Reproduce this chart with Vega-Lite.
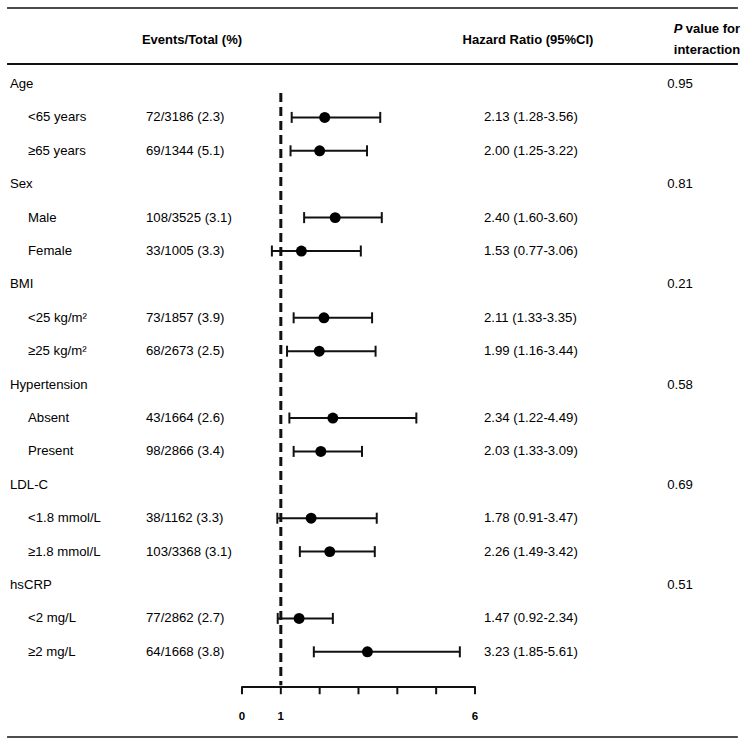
{
  "$schema": "https://vega.github.io/schema/vega-lite/v6.json",
  "width": 744,
  "height": 745,
  "autosize": {"type": "none"},
  "padding": 0,
  "background": "white",
  "config": {"view": {"stroke": null}},
  "datasets": {
    "rows": [
      {"row": 0, "label": "Age", "type": "group", "p": "0.95"},
      {"row": 1, "label": "<65 years", "type": "sub", "events": "72/3186 (2.3)", "hr": 2.13, "lo": 1.28, "hi": 3.56, "ci": "2.13 (1.28-3.56)"},
      {"row": 2, "label": "≥65 years", "type": "sub", "events": "69/1344 (5.1)", "hr": 2.0, "lo": 1.25, "hi": 3.22, "ci": "2.00 (1.25-3.22)"},
      {"row": 3, "label": "Sex", "type": "group", "p": "0.81"},
      {"row": 4, "label": "Male", "type": "sub", "events": "108/3525 (3.1)", "hr": 2.4, "lo": 1.6, "hi": 3.6, "ci": "2.40 (1.60-3.60)"},
      {"row": 5, "label": "Female", "type": "sub", "events": "33/1005 (3.3)", "hr": 1.53, "lo": 0.77, "hi": 3.06, "ci": "1.53 (0.77-3.06)"},
      {"row": 6, "label": "BMI", "type": "group", "p": "0.21"},
      {"row": 7, "label": "<25 kg/m²", "type": "sub", "events": "73/1857 (3.9)", "hr": 2.11, "lo": 1.33, "hi": 3.35, "ci": "2.11 (1.33-3.35)"},
      {"row": 8, "label": "≥25 kg/m²", "type": "sub", "events": "68/2673 (2.5)", "hr": 1.99, "lo": 1.16, "hi": 3.44, "ci": "1.99 (1.16-3.44)"},
      {"row": 9, "label": "Hypertension", "type": "group", "p": "0.58"},
      {"row": 10, "label": "Absent", "type": "sub", "events": "43/1664 (2.6)", "hr": 2.34, "lo": 1.22, "hi": 4.49, "ci": "2.34 (1.22-4.49)"},
      {"row": 11, "label": "Present", "type": "sub", "events": "98/2866 (3.4)", "hr": 2.03, "lo": 1.33, "hi": 3.09, "ci": "2.03 (1.33-3.09)"},
      {"row": 12, "label": "LDL-C", "type": "group", "p": "0.69"},
      {"row": 13, "label": "<1.8 mmol/L", "type": "sub", "events": "38/1162 (3.3)", "hr": 1.78, "lo": 0.91, "hi": 3.47, "ci": "1.78 (0.91-3.47)"},
      {"row": 14, "label": "≥1.8 mmol/L", "type": "sub", "events": "103/3368 (3.1)", "hr": 2.26, "lo": 1.49, "hi": 3.42, "ci": "2.26 (1.49-3.42)"},
      {"row": 15, "label": "hsCRP", "type": "group", "p": "0.51"},
      {"row": 16, "label": "<2 mg/L", "type": "sub", "events": "77/2862 (2.7)", "hr": 1.47, "lo": 0.92, "hi": 2.34, "ci": "1.47 (0.92-2.34)"},
      {"row": 17, "label": "≥2 mg/L", "type": "sub", "events": "64/1668 (3.8)", "hr": 3.23, "lo": 1.85, "hi": 5.61, "ci": "3.23 (1.85-5.61)"}
    ],
    "ticks": [
      {"t": 0, "lab": "0"}, {"t": 1, "lab": "1"}, {"t": 2, "lab": ""}, {"t": 3, "lab": ""},
      {"t": 4, "lab": ""}, {"t": 5, "lab": ""}, {"t": 6, "lab": "6"}
    ],
    "one": [{"k": 1}]
  },
  "layer": [
    {
      "data": {"name": "one"},
      "mark": {"type": "rule", "color": "#111", "strokeWidth": 1.5},
      "encoding": {
        "x": {"datum": -6.05, "type": "quantitative", "scale": {"domain": [-6.232, 12.928], "nice": false, "zero": false}, "axis": null},
        "x2": {"datum": 12.77},
        "y": {"datum": -2.275, "type": "quantitative", "scale": {"domain": [-2.515, 19.79], "reverse": true, "nice": false, "zero": false}, "axis": null}
      }
    },
    {
      "data": {"name": "one"},
      "mark": {"type": "rule", "color": "#111", "strokeWidth": 2},
      "encoding": {
        "x": {"datum": -6.05, "type": "quantitative", "scale": {"domain": [-6.232, 12.928], "nice": false, "zero": false}, "axis": null},
        "x2": {"datum": 12.77},
        "y": {"datum": -0.599, "type": "quantitative", "scale": {"domain": [-2.515, 19.79], "reverse": true, "nice": false, "zero": false}, "axis": null}
      }
    },
    {
      "data": {"name": "one"},
      "mark": {"type": "rule", "color": "#111", "strokeWidth": 1.5},
      "encoding": {
        "x": {"datum": -6.05, "type": "quantitative", "scale": {"domain": [-6.232, 12.928], "nice": false, "zero": false}, "axis": null},
        "x2": {"datum": 12.77},
        "y": {"datum": 19.55, "type": "quantitative", "scale": {"domain": [-2.515, 19.79], "reverse": true, "nice": false, "zero": false}, "axis": null}
      }
    },
    {
      "data": {"name": "one"},
      "mark": {"type": "text", "font": "Liberation Sans", "fontSize": 13, "fontWeight": "bold", "align": "center", "baseline": "middle", "color": "#000", "text": "Events/Total (%)"},
      "encoding": {
        "x": {"datum": -1.288, "type": "quantitative", "scale": {"domain": [-6.232, 12.928], "nice": false, "zero": false}, "axis": null},
        "y": {"datum": -1.317, "type": "quantitative", "scale": {"domain": [-2.515, 19.79], "reverse": true, "nice": false, "zero": false}, "axis": null}
      }
    },
    {
      "data": {"name": "one"},
      "mark": {"type": "text", "font": "Liberation Sans", "fontSize": 13, "fontWeight": "bold", "align": "center", "baseline": "middle", "color": "#000", "text": "Hazard Ratio (95%CI)"},
      "encoding": {
        "x": {"datum": 7.365, "type": "quantitative", "scale": {"domain": [-6.232, 12.928], "nice": false, "zero": false}, "axis": null},
        "y": {"datum": -1.317, "type": "quantitative", "scale": {"domain": [-2.515, 19.79], "reverse": true, "nice": false, "zero": false}, "axis": null}
      }
    },
    {
      "data": {"name": "one"},
      "mark": {"type": "text", "font": "Liberation Sans", "fontSize": 13, "fontWeight": "bold", "fontStyle": "italic", "align": "left", "baseline": "middle", "color": "#000", "text": "P"},
      "encoding": {
        "x": {"datum": 11.12, "type": "quantitative", "scale": {"domain": [-6.232, 12.928], "nice": false, "zero": false}, "axis": null},
        "y": {"datum": -1.647, "type": "quantitative", "scale": {"domain": [-2.515, 19.79], "reverse": true, "nice": false, "zero": false}, "axis": null}
      }
    },
    {
      "data": {"name": "one"},
      "mark": {"type": "text", "font": "Liberation Sans", "fontSize": 13, "fontWeight": "bold", "align": "left", "baseline": "middle", "color": "#000", "text": "value for"},
      "encoding": {
        "x": {"datum": 11.43, "type": "quantitative", "scale": {"domain": [-6.232, 12.928], "nice": false, "zero": false}, "axis": null},
        "y": {"datum": -1.647, "type": "quantitative", "scale": {"domain": [-2.515, 19.79], "reverse": true, "nice": false, "zero": false}, "axis": null}
      }
    },
    {
      "data": {"name": "one"},
      "mark": {"type": "text", "font": "Liberation Sans", "fontSize": 13, "fontWeight": "bold", "align": "left", "baseline": "middle", "color": "#000", "text": "interaction"},
      "encoding": {
        "x": {"datum": 11.12, "type": "quantitative", "scale": {"domain": [-6.232, 12.928], "nice": false, "zero": false}, "axis": null},
        "y": {"datum": -1.018, "type": "quantitative", "scale": {"domain": [-2.515, 19.79], "reverse": true, "nice": false, "zero": false}, "axis": null}
      }
    },
    {
      "data": {"name": "one"},
      "mark": {"type": "rule", "color": "#111", "strokeWidth": 3, "strokeDash": [9, 5]},
      "encoding": {
        "x": {"datum": 1, "type": "quantitative", "scale": {"domain": [-6.232, 12.928], "nice": false, "zero": false}, "axis": null},
        "y": {"datum": 0.269, "type": "quantitative", "scale": {"domain": [-2.515, 19.79], "reverse": true, "nice": false, "zero": false}, "axis": null},
        "y2": {"datum": 18.0}
      }
    },
    {
      "data": {"name": "one"},
      "mark": {"type": "rule", "color": "#111", "strokeWidth": 2},
      "encoding": {
        "x": {"datum": 0, "type": "quantitative", "scale": {"domain": [-6.232, 12.928], "nice": false, "zero": false}, "axis": null},
        "x2": {"datum": 6},
        "y": {"datum": 18.053, "type": "quantitative", "scale": {"domain": [-2.515, 19.79], "reverse": true, "nice": false, "zero": false}, "axis": null}
      }
    },
    {
      "data": {"name": "ticks"},
      "mark": {"type": "rule", "color": "#111", "strokeWidth": 2},
      "encoding": {
        "x": {"field": "t", "type": "quantitative", "scale": {"domain": [-6.232, 12.928], "nice": false, "zero": false}, "axis": null},
        "y": {"datum": 18.03, "type": "quantitative", "scale": {"domain": [-2.515, 19.79], "reverse": true, "nice": false, "zero": false}, "axis": null},
        "y2": {"datum": 18.27}
      }
    },
    {
      "data": {"name": "ticks"},
      "mark": {"type": "text", "font": "Liberation Sans", "fontSize": 11.5, "fontWeight": "bold", "align": "center", "baseline": "middle", "color": "#000"},
      "encoding": {
        "x": {"field": "t", "type": "quantitative", "scale": {"domain": [-6.232, 12.928], "nice": false, "zero": false}, "axis": null},
        "y": {"datum": 18.952, "type": "quantitative", "scale": {"domain": [-2.515, 19.79], "reverse": true, "nice": false, "zero": false}, "axis": null},
        "text": {"field": "lab"}
      }
    },
    {
      "data": {"name": "rows"},
      "transform": [{"filter": "datum.type === 'group'"}],
      "mark": {"type": "text", "font": "Liberation Sans", "fontSize": 13.2, "align": "left", "baseline": "middle", "color": "#000"},
      "encoding": {
        "x": {"datum": -5.975, "type": "quantitative", "scale": {"domain": [-6.232, 12.928], "nice": false, "zero": false}, "axis": null},
        "y": {"field": "row", "type": "quantitative", "scale": {"domain": [-2.515, 19.79], "reverse": true, "nice": false, "zero": false}, "axis": null},
        "text": {"field": "label"}
      }
    },
    {
      "data": {"name": "rows"},
      "transform": [{"filter": "datum.type === 'group'"}],
      "mark": {"type": "text", "font": "Liberation Sans", "fontSize": 13.2, "align": "center", "baseline": "middle", "color": "#000"},
      "encoding": {
        "x": {"datum": 11.279, "type": "quantitative", "scale": {"domain": [-6.232, 12.928], "nice": false, "zero": false}, "axis": null},
        "y": {"field": "row", "type": "quantitative", "scale": {"domain": [-2.515, 19.79], "reverse": true, "nice": false, "zero": false}, "axis": null},
        "text": {"field": "p"}
      }
    },
    {
      "data": {"name": "rows"},
      "transform": [{"filter": "datum.type === 'sub'"}],
      "mark": {"type": "text", "font": "Liberation Sans", "fontSize": 13.2, "align": "left", "baseline": "middle", "color": "#000"},
      "encoding": {
        "x": {"datum": -5.511, "type": "quantitative", "scale": {"domain": [-6.232, 12.928], "nice": false, "zero": false}, "axis": null},
        "y": {"field": "row", "type": "quantitative", "scale": {"domain": [-2.515, 19.79], "reverse": true, "nice": false, "zero": false}, "axis": null},
        "text": {"field": "label"}
      }
    },
    {
      "data": {"name": "rows"},
      "transform": [{"filter": "datum.type === 'sub'"}],
      "mark": {"type": "text", "font": "Liberation Sans", "fontSize": 13.2, "align": "left", "baseline": "middle", "color": "#000"},
      "encoding": {
        "x": {"datum": -2.472, "type": "quantitative", "scale": {"domain": [-6.232, 12.928], "nice": false, "zero": false}, "axis": null},
        "y": {"field": "row", "type": "quantitative", "scale": {"domain": [-2.515, 19.79], "reverse": true, "nice": false, "zero": false}, "axis": null},
        "text": {"field": "events"}
      }
    },
    {
      "data": {"name": "rows"},
      "transform": [{"filter": "datum.type === 'sub'"}],
      "mark": {"type": "text", "font": "Liberation Sans", "fontSize": 13.2, "align": "left", "baseline": "middle", "color": "#000"},
      "encoding": {
        "x": {"datum": 6.232, "type": "quantitative", "scale": {"domain": [-6.232, 12.928], "nice": false, "zero": false}, "axis": null},
        "y": {"field": "row", "type": "quantitative", "scale": {"domain": [-2.515, 19.79], "reverse": true, "nice": false, "zero": false}, "axis": null},
        "text": {"field": "ci"}
      }
    },
    {
      "data": {"name": "rows"},
      "transform": [{"filter": "datum.type === 'sub'"}],
      "mark": {"type": "rule", "color": "#111", "strokeWidth": 2},
      "encoding": {
        "x": {"field": "lo", "type": "quantitative", "scale": {"domain": [-6.232, 12.928], "nice": false, "zero": false}, "axis": null},
        "x2": {"field": "hi"},
        "y": {"field": "row", "type": "quantitative", "scale": {"domain": [-2.515, 19.79], "reverse": true, "nice": false, "zero": false}, "axis": null}
      }
    },
    {
      "data": {"name": "rows"},
      "transform": [{"filter": "datum.type === 'sub'"}],
      "mark": {"type": "tick", "color": "#111", "orient": "vertical", "size": 11, "thickness": 2, "opacity": 1},
      "encoding": {
        "x": {"field": "lo", "type": "quantitative", "scale": {"domain": [-6.232, 12.928], "nice": false, "zero": false}, "axis": null},
        "y": {"field": "row", "type": "quantitative", "scale": {"domain": [-2.515, 19.79], "reverse": true, "nice": false, "zero": false}, "axis": null}
      }
    },
    {
      "data": {"name": "rows"},
      "transform": [{"filter": "datum.type === 'sub'"}],
      "mark": {"type": "tick", "color": "#111", "orient": "vertical", "size": 11, "thickness": 2, "opacity": 1},
      "encoding": {
        "x": {"field": "hi", "type": "quantitative", "scale": {"domain": [-6.232, 12.928], "nice": false, "zero": false}, "axis": null},
        "y": {"field": "row", "type": "quantitative", "scale": {"domain": [-2.515, 19.79], "reverse": true, "nice": false, "zero": false}, "axis": null}
      }
    },
    {
      "data": {"name": "rows"},
      "transform": [{"filter": "datum.type === 'sub'"}],
      "mark": {"type": "point", "shape": "circle", "filled": true, "color": "#000", "size": 120, "opacity": 1},
      "encoding": {
        "x": {"field": "hr", "type": "quantitative", "scale": {"domain": [-6.232, 12.928], "nice": false, "zero": false}, "axis": null},
        "y": {"field": "row", "type": "quantitative", "scale": {"domain": [-2.515, 19.79], "reverse": true, "nice": false, "zero": false}, "axis": null}
      }
    }
  ]
}
